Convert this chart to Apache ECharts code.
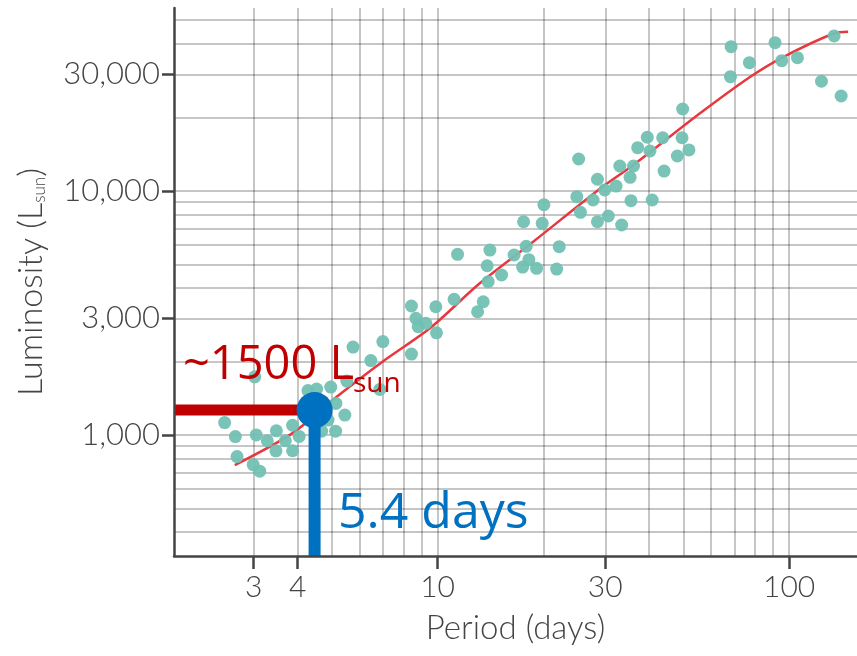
<!DOCTYPE html>
<html>
<head>
<meta charset="utf-8">
<script src="https://cdn.jsdelivr.net/npm/echarts@6/dist/echarts.min.js"></script>
<style>
  html, body { margin: 0; padding: 0; background: #fff; }
  #chart { width: 857px; height: 656px; }
</style>
</head>
<body>
<div id="chart"></div>
<script>
// period-luminosity, log-log
const periods = [2.48, 2.66, 2.69, 2.99, 3.12, 3.05, 3.28, 3.48, 3.47, 3.69,
  3.87, 3.87, 4.04, 3.02, 4.28, 4.53, 4.97, 5.14, 5.45, 5.13,
  4.88, 4.68, 5.52, 5.75, 6.46, 6.99, 6.85, 8.43, 8.43, 8.68,
  8.81, 9.26, 9.89, 9.93, 11.15, 11.4, 13.0, 13.49, 13.84, 13.93,
  14.09, 15.21, 16.51, 17.46, 17.57, 17.87, 18.19, 19.13, 19.85, 20.07,
  21.82, 22.19, 25.2, 24.9, 25.5, 27.7, 28.5, 28.5, 29.9, 30.6,
  32.2, 33.0, 33.4, 35.3, 35.5, 36.1, 37.1, 39.5, 40.2, 40.8,
  43.7, 44.1, 48.1, 49.6, 49.8, 51.9, 68.4, 68.1, 77.1, 91.2,
  95.3, 105.6, 134.3, 123.6, 140.6];
const lums = [1123, 984, 815, 755, 710, 1000, 946, 1039, 860, 946,
  1095, 861, 986, 1730, 1519, 1541, 1570, 1346, 1206, 1036,
  1150, 1036, 1662, 2290, 2016, 2412, 1536, 2143, 3373, 3002,
  2773, 2864, 3350, 2620, 3593, 5494, 3196, 3512, 4932, 4242,
  5719, 4518, 5457, 4872, 7470, 5923, 5220, 4813, 7358, 8770,
  4781, 5901, 13500, 9460, 8165, 9170, 11150, 7470, 10080, 7884,
  10460, 12640, 7241, 11360, 9109, 12640, 15020, 16570, 14560, 9170,
  16500, 12050, 13890, 16500, 21640, 14700, 38950, 29350, 33500, 40450,
  34140, 35120, 43090, 28110, 24460];

// fitted curve
const fitPeriods = [2.65, 3.87, 5.03, 7.08, 9.51, 13.19, 18.71, 28.97, 36.05, 55.8, 77.4, 96.2, 134.4, 147.2];
const fitLums = [752, 1017, 1389, 2026, 2733, 4178, 6185, 10200, 12760, 20780, 29270, 35320, 44200, 44880];

const gridPeriods = [3, 4, 5, 6, 7, 8, 9, 10, 20, 30, 40, 50, 60, 70, 80, 90, 100];
const gridLums = [400, 500, 600, 700, 800, 900, 1000, 2000, 3000, 4000, 5000, 6000, 7000, 8000, 9000,
  10000, 20000, 30000, 40000, 50000];
const tickPeriods = [3, 4, 10, 30, 100];
const tickLums = [1000, 3000, 10000, 30000];
const periodRange = [1.78, 156];
const lumRange = [319, 56100];

// highlighted star
const markerPeriod = 4.47;
const markerLum = 1264;

const handFont = 'Lato';
const axisColor = '#444';

const myChart = echarts.init(document.getElementById('chart'));

const gridLineStyle = { color: 'rgba(0,0,0,0.3)', width: 1.5 };

const option = {
  animation: false,
  backgroundColor: '#fff',
  grid: { left: 174, right: 0, top: 8, bottom: 100 },
  xAxis: [{
    type: 'log',
    logBase: 10,
    min: periodRange[0],
    max: periodRange[1],
    position: 'bottom',
    name: 'Period (days)',
    nameLocation: 'middle',
    nameGap: 56,
    nameMoveOverlap: false,
    nameTextStyle: { fontFamily: handFont, fontWeight: 300, fontSize: 33, color: axisColor },
    axisLine: { show: true, onZero: false, lineStyle: { color: axisColor, width: 2.5 } },
    axisTick: { show: true, customValues: tickPeriods, length: 13, lineStyle: { color: axisColor, width: 2.5 } },
    axisLabel: { customValues: tickPeriods, margin: 16, fontFamily: handFont, fontWeight: 300, fontSize: 30, color: axisColor },
    splitLine: { show: false },
    z: 10
  }, {
    type: 'log',
    logBase: 10,
    min: periodRange[0],
    max: periodRange[1],
    axisLine: { show: false },
    axisTick: { show: false, customValues: gridPeriods },
    axisLabel: { show: false },
    splitLine: { show: true, lineStyle: gridLineStyle }
  }],
  yAxis: [{
    type: 'log',
    logBase: 10,
    min: lumRange[0],
    max: lumRange[1],
    position: 'left',
    name: 'Luminosity (L{s|sun})',
    nameLocation: 'middle',
    nameGap: 126,
    nameMoveOverlap: false,
    nameTextStyle: {
      fontFamily: handFont, fontWeight: 300, fontSize: 34, color: axisColor,
      rich: { s: { fontFamily: handFont, fontWeight: 300, fontSize: 17, color: axisColor, verticalAlign: 'bottom', padding: [12, 0, 0, 0] } }
    },
    axisLine: { show: true, onZero: false, lineStyle: { color: axisColor, width: 2.5 } },
    axisTick: { show: true, customValues: tickLums, length: 12, lineStyle: { color: axisColor, width: 2.5 } },
    axisLabel: {
      customValues: tickLums, margin: 14, fontFamily: handFont, fontWeight: 300, fontSize: 31, color: axisColor,
      formatter: v => Number(v).toLocaleString('en-US')
    },
    splitLine: { show: false },
    z: 10
  }, {
    type: 'log',
    logBase: 10,
    min: lumRange[0],
    max: lumRange[1],
    axisLine: { show: false },
    axisTick: { show: false, customValues: gridLums },
    axisLabel: { show: false },
    splitLine: { show: true, lineStyle: gridLineStyle }
  }],
  series: [{
    name: 'fit',
    type: 'line',
    smooth: 0.3,
    showSymbol: false,
    data: fitPeriods.map((p, i) => [p, fitLums[i]]),
    lineStyle: { color: '#e8383f', width: 2.5 },
    z: 2
  }, {
    name: 'stars',
    type: 'scatter',
    symbolSize: 13,
    data: periods.map((p, i) => [p, lums[i]]),
    itemStyle: { color: '#72c0b3', opacity: 0.95 },
    z: 3
  }, {
    name: 'lum marker',
    type: 'line',
    symbol: 'none',
    data: [[periodRange[0], markerLum], [markerPeriod, markerLum]],
    lineStyle: { color: '#c00000', width: 11 },
    z: 5
  }, {
    name: 'period marker',
    type: 'line',
    symbol: 'none',
    data: [[markerPeriod, markerLum], [markerPeriod, lumRange[0]]],
    lineStyle: { color: '#0070c0', width: 12 },
    z: 5
  }, {
    name: 'star marker',
    type: 'scatter',
    symbolSize: 36,
    data: [[markerPeriod, markerLum]],
    itemStyle: { color: '#0070c0', opacity: 1 },
    z: 6
  }],
  graphic: [{
    type: 'text', x: 183, y: 366, z: 20,
    style: { text: '~1500 L', fontFamily: 'Open Sans', fontSize: 47, fill: '#c00000', verticalAlign: 'middle' }
  }, {
    type: 'text', x: 353, y: 384, z: 20,
    style: { text: 'sun', fontFamily: 'Open Sans', fontSize: 28, fill: '#c00000', verticalAlign: 'middle' }
  }, {
    type: 'text', x: 338, y: 514, z: 20,
    style: { text: '5.4 days', fontFamily: 'Open Sans', fontSize: 50, fill: '#0070c0', verticalAlign: 'middle' }
  }]
};

myChart.setOption(option);
</script>
</body>
</html>
